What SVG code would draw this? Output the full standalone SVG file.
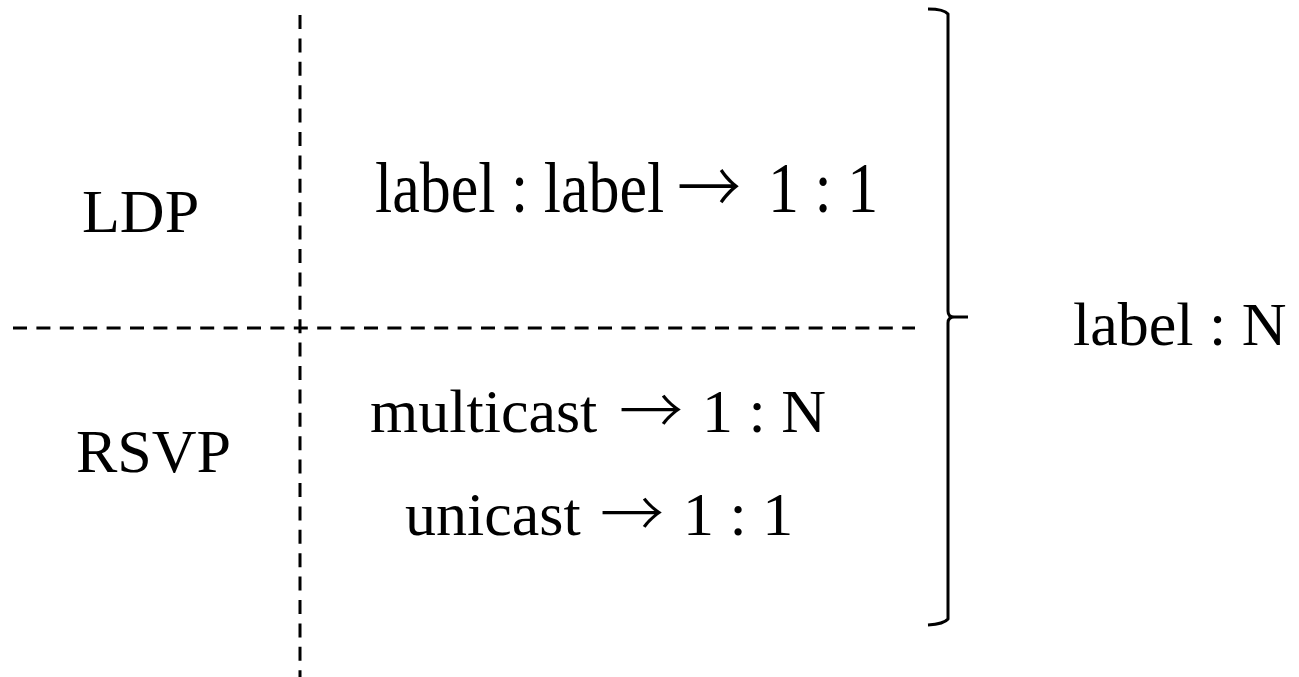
<svg xmlns="http://www.w3.org/2000/svg" width="1299" height="677" viewBox="0 0 1299 677">
  <style>
    .txt { font-family: "Liberation Serif", "Times New Roman", serif; font-size: 62px; fill: #000; }
    .arr { font-family: "Noto Sans CJK SC", "DejaVu Sans", sans-serif; font-size: 64px; font-weight: 300; }
    .dash { stroke: #000; stroke-width: 3; stroke-dasharray: 14 9.4; fill: none; }
    .brace { stroke: #000; stroke-width: 3; fill: none; stroke-linejoin: round; }
  </style>
  <rect width="1299" height="677" fill="#fff"/>

  <!-- dividing lines and the right-hand brace -->
  <g id="connectors">
    <line class="dash" x1="300" y1="15" x2="300" y2="677"/>
    <line class="dash" x1="13" y1="328" x2="915" y2="328"/>
    <path id="brace" class="brace" d="M928,9 Q944,9 948,14 L948,311 Q948,317 954,317 L968,317 M948,323 Q948,317 954,317 M948,323 L948,619 Q944,624 928,625"/>
  </g>

  <g id="ldp"><text class="txt" x="82" y="232">LDP</text></g>
  <g id="rsvp"><text class="txt" x="76" y="472">RSVP</text></g>
  <g id="ldp-map">
    <text class="txt" x="375" y="212" transform="translate(0,212) scale(1,1.15) translate(0,-212)">label : label <tspan class="arr" x="677" dy="2">→</tspan><tspan x="768" dy="-2">1 : 1</tspan></text>
  </g>
  <g id="rsvp-multicast">
    <text class="txt" x="370" y="432">multicast <tspan class="arr" x="619" dy="2">→</tspan><tspan x="702" dy="-2">1 : N</tspan></text>
  </g>
  <g id="rsvp-unicast">
    <text class="txt" x="405" y="535">unicast <tspan class="arr" x="600" dy="2">→</tspan><tspan x="683" dy="-2">1 : 1</tspan></text>
  </g>
  <g id="summary"><text class="txt" x="1073" y="345">label : N</text></g>
</svg>
